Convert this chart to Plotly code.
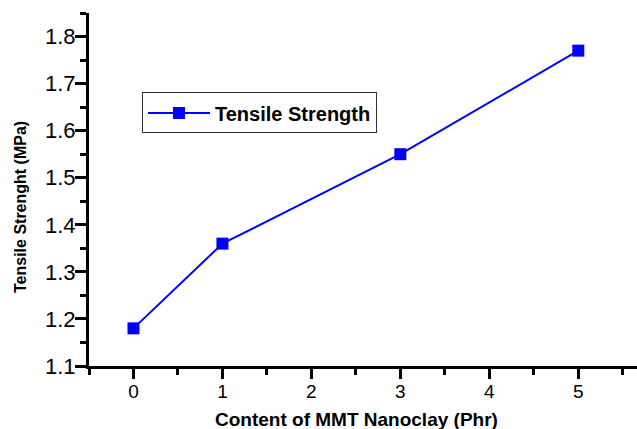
import plotly.graph_objects as go

content_phr = [0, 1, 3, 5]
tensile_strength = [1.18, 1.36, 1.55, 1.77]
series_name = "Tensile Strength"
x_title = "Content of MMT Nanoclay (Phr)"
y_title = "Tensile Strenght (MPa)"

FONT = "Liberation Sans, Arial, sans-serif"

fig = go.Figure()
fig.add_trace(go.Scatter(
    x=content_phr, y=tensile_strength, mode="lines+markers", name=series_name,
    line=dict(color="#0000FF", width=2),
    marker=dict(symbol="square", size=12, color="#0000FF"),
))

fig.update_layout(
    width=637, height=429,
    margin=dict(l=89, r=0, t=13, b=63),
    plot_bgcolor="white", paper_bgcolor="white",
    font=dict(family=FONT, color="black"),
    showlegend=True,
    legend=dict(
        x=0.0967, y=0.775, xanchor="left", yanchor="top",
        bordercolor="#333333", borderwidth=1, bgcolor="white",
        font=dict(family=FONT, size=20, color="black", weight="bold"),
        itemwidth=62, tracegroupgap=0,
    ),
    xaxis=dict(
        range=[-0.5, 5.66], tickmode="linear", tick0=0, dtick=1,
        showline=True, linecolor="black", linewidth=3,
        ticks="outside", ticklen=10, tickwidth=2.5, tickcolor="black",
        minor=dict(ticks="outside", ticklen=6, tickwidth=2.5, tickcolor="black", dtick=0.5, tick0=0),
        showgrid=False, zeroline=False,
        tickfont=dict(family=FONT, size=19, color="black"),
        ticklabelstandoff=-4,
        automargin=False,
    ),
    yaxis=dict(
        range=[1.1, 1.85], tickmode="linear", tick0=1.1, dtick=0.1,
        showline=True, linecolor="black", linewidth=3,
        ticks="outside", ticklen=11, tickwidth=2.5, tickcolor="black",
        minor=dict(ticks="outside", ticklen=6, tickwidth=2.5, tickcolor="black", dtick=0.05, tick0=1.1),
        showgrid=False, zeroline=False, tickformat=".1f",
        tickfont=dict(family=FONT, size=22, color="black"),
        ticklabelstandoff=-5,
        automargin=False,
    ),
)

fig.add_annotation(
    text=x_title, xref="paper", yref="paper",
    x=(356 - 89) / 548, y=-(419 - 366) / 353, xanchor="center", yanchor="middle",
    showarrow=False, font=dict(family=FONT, size=19, color="black", weight="bold"),
)
fig.add_annotation(
    text=y_title, xref="paper", yref="paper",
    x=-(89 - 21) / 548, y=(366 - 207) / 353, xanchor="center", yanchor="middle",
    textangle=-90,
    showarrow=False, font=dict(family=FONT, size=16, color="black", weight="bold"),
)

fig.write_html("out.html")
